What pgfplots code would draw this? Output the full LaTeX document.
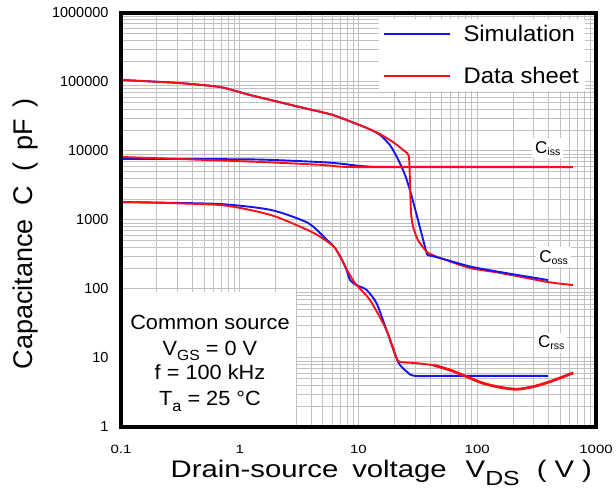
\documentclass[border=0pt]{standalone}
\usepackage{fontspec}
\setmainfont{Liberation Sans}
\newfontfamily\xlabfont[FakeStretch=1.22]{Liberation Sans}
\newfontfamily\xtickfont[FakeStretch=1.25]{Liberation Sans}
\newfontfamily\wfont[FakeStretch=1.06]{Liberation Sans}
\usepackage{graphicx}
\usepackage{pgfplots}
\pgfplotsset{compat=1.18}

\definecolor{simblue}{RGB}{20,20,235}
\definecolor{dsred}{RGB}{250,15,25}
\definecolor{gridgray}{RGB}{192,192,192}

\newcommand{\lsub}[3]{\raisebox{-#2}{\scalebox{#3}{#1}}}

\begin{document}
\begin{tikzpicture}
\path[use as bounding box] (-121pt,-68pt) rectangle (495pt,427pt);
\begin{axis}[
  at={(0pt,0pt)}, anchor=south west,
  scale only axis, width=475pt, height=414pt,
  xmode=log, ymode=log,
  xmin=0.1, xmax=1000, ymin=1, ymax=1000000,
  clip=false,
  xtick={0.1,1,10,100,1000},
  xticklabels={0.1,1,10,100,1000},
  ytick={1,10,100,1000,10000,100000,1000000},
  yticklabels={1,10,100,1000,10000,100000,1000000},
  minor xtick={0.2,0.3,0.4,0.5,0.6,0.7,0.8,0.9,2,3,4,5,6,7,8,9,20,30,40,50,60,70,80,90,200,300,400,500,600,700,800,900},
  minor ytick={2,3,4,5,6,7,8,9,20,30,40,50,60,70,80,90,200,300,400,500,600,700,800,900,2000,3000,4000,5000,6000,7000,8000,9000,20000,30000,40000,50000,60000,70000,80000,90000,200000,300000,400000,500000,600000,700000,800000,900000},
  grid=both,
  major grid style={gridgray, line width=1pt},
  minor grid style={gridgray, line width=0.9pt},
  major tick length=0pt, minor tick length=0pt,
  axis line style={draw=none},
  xticklabel style={font=\xtickfont\fontsize{12}{12}\selectfont, yshift=-15pt},
  yticklabel style={font=\fontsize{14.5}{14.5}\selectfont, xshift=-9pt},
  xlabel={\xlabfont\fontsize{24}{24}\selectfont Drain-source\hspace{14pt}voltage\hspace{19pt}V\lsub{DS}{0.36em}{0.85}\hspace{17pt}(\hspace{8pt}V\hspace{8pt})},
  xlabel style={at={(axis description cs:0.548,-0.1208)}, anchor=base},
  ylabel={\fontsize{27}{27}\selectfont Capacitance\hspace{14pt}C\hspace{14pt}(\hspace{12pt}pF\hspace{12pt})},
  ylabel style={at={(axis description cs:-0.1853,0.467)}, anchor=base},
  legend style={at={(0.977,0.9855)}, anchor=north east, draw=none, fill=white,
    font=\wfont\fontsize{22.5}{22.5}\selectfont, inner xsep=4pt, inner ysep=4pt,
    row sep=20.5pt, /tikz/every odd column/.append style={column sep=11pt}},
  legend image code/.code={\draw[#1] (0pt,0pt) -- (66pt,0pt);},
  legend cell align=left,
]
% white text box
\fill[white] (axis cs:0.1,1) rectangle (axis cs:2.98,90);

% Simulation, upper curve
\addplot[simblue, line width=1.9pt, smooth, tension=0.35] coordinates {
 (0.1,107000) (0.3,97000) (0.68,84700) (1.22,64800) (3.2,43400) (6.1,33200)
 (11.8,21500) (15.2,17100) (18.4,12200) (21,8270) (23.7,5300) (25.5,3800)
 (28.1,2180) (31.7,1000) (37.8,311)
};
\addlegendentry{Simulation}
% Data sheet, upper curve
\addplot[dsred, line width=1.9pt, smooth, tension=0.3] coordinates {
 (0.1,107000) (0.3,97000) (0.68,84700) (1.22,64800) (3.2,43400) (6.1,33200)
 (11.8,21500) (15.2,17600) (19.5,13500) (25.6,9350) (26.6,8200) (26.9,5900)
 (27.2,3000) (27.7,1260) (28.8,800) (31.6,513) (37.5,347) (45.5,294) (87,201)
 (156,171) (394,126) (640,114)
};
\addlegendentry{Data sheet}
\addplot[simblue, line width=1.9pt, smooth, tension=0.4, forget plot] coordinates {
 (37.8,311) (48.5,281) (87,212) (156,176) (394,135)
};

% Ciss-like flat curve
\addplot[simblue, line width=1.9pt, smooth, tension=0.4, forget plot] coordinates {
 (0.1,7700) (1.3,7550) (4.8,6900) (7.1,6550) (10,6100) (14,5900) (30,5900) (394,5900)
};
\addplot[dsred, line width=1.9pt, smooth, tension=0.4, forget plot] coordinates {
 (0.1,8200) (1.3,7000) (4.8,6300) (7.1,5920) (10,5850) (30,5850) (640,5850)
};

% Crss
\addplot[simblue, line width=1.9pt, smooth, tension=0.4, forget plot] coordinates {
 (0.1,1820) (0.656,1710) (1.83,1400) (3.76,905) (5.43,513) (6.34,393) (7.3,260)
 (7.94,188) (8.48,135) (9.6,114) (11.7,97) (14.2,62) (17.2,25.5) (21.5,8.8)
 (25.6,6.3) (29.9,5.5) (60,5.5) (394,5.5)
};
\addplot[dsred, line width=1.9pt, smooth, tension=0.4, forget plot] coordinates {
 (0.1,1820) (0.68,1650) (1.83,1180) (3.73,716) (4.74,573) (6.34,393) (8.17,178)
 (9.35,121) (12.5,69) (17.2,25.5) (21,9.9) (22.4,8.8) (30.9,8.4) (42.7,7.9)
};
\addplot[dsred, line width=2.8pt, smooth, tension=0.4, forget plot] coordinates {
 (42.7,7.9) (58.9,6.7) (81.5,5.36) (112,4.3) (156,3.76) (215,3.52) (296,3.84)
 (410,4.54) (645,6.1)
};

% curve labels
\node[fill=white, inner sep=3pt, anchor=base west, font=\fontsize{17}{17}\selectfont]
  at (axis cs:289,9350) {C\lsub{iss}{0.12em}{0.62}};
\node[fill=white, inner sep=3pt, anchor=base west, font=\fontsize{17}{17}\selectfont]
  at (axis cs:313,246) {C\lsub{oss}{0.12em}{0.62}};
\node[fill=white, inner sep=3pt, anchor=base west, font=\fontsize{17}{17}\selectfont]
  at (axis cs:306,14) {C\lsub{rss}{0.12em}{0.62}};

% conditions text
\node[anchor=base, inner sep=0pt, font=\wfont\fontsize{20.5}{20.5}\selectfont]
  at (axis cs:0.5615,25.6) {Common source};
\node[anchor=base, inner sep=0pt, font=\wfont\fontsize{20.5}{20.5}\selectfont]
  at (axis cs:0.5615,10.7) {V\lsub{GS}{0.2em}{0.72} = 0 V};
\node[anchor=base, inner sep=0pt, font=\wfont\fontsize{20.5}{20.5}\selectfont]
  at (axis cs:0.5615,4.96) {f = 100 kHz};
\node[anchor=base, inner sep=0pt, font=\wfont\fontsize{20.5}{20.5}\selectfont]
  at (axis cs:0.5615,2.04) {T\lsub{a}{0.28em}{0.75} = 25 °C};

% frame
\draw[black, line width=3.5pt] (rel axis cs:0,0) rectangle (rel axis cs:1,1);
\end{axis}
\end{tikzpicture}
\end{document}
